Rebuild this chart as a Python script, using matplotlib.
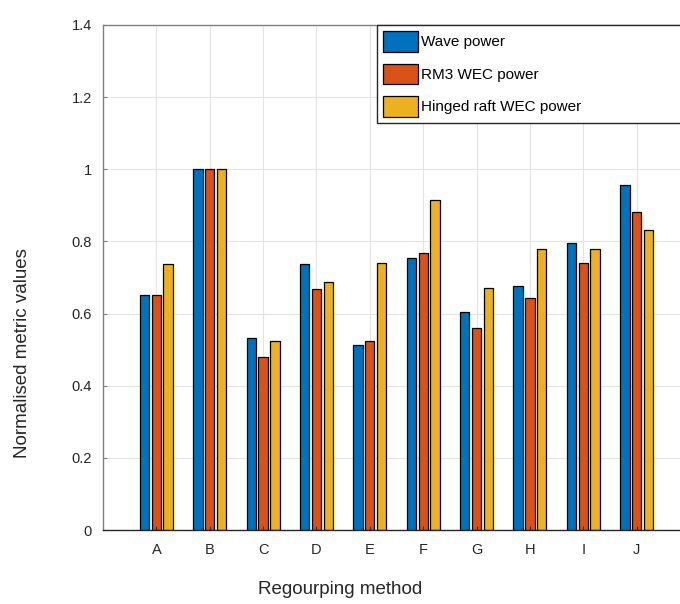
"""
Normalised metric values per regrouping method, grouped bars.
"""
import numpy as np
from matplotlib import pyplot as plt

# Data
methods = ["A", "B", "C", "D", "E", "F", "G", "H", "I", "J"]
wave_power = [0.651, 1.0, 0.533, 0.737, 0.512, 0.753, 0.603, 0.676, 0.796, 0.957]
rm3_power = [0.652, 1.0, 0.479, 0.668, 0.525, 0.768, 0.559, 0.642, 0.740, 0.881]
raft_power = [0.737, 1.0, 0.523, 0.688, 0.739, 0.915, 0.672, 0.779, 0.779, 0.833]
series_names = ["Wave power", "RM3 WEC power", "Hinged raft WEC power"]
y_ticks = [0, 0.2, 0.4, 0.6, 0.8, 1, 1.2, 1.4]

plt.rcParams['font.family'] = ['Liberation Sans', 'DejaVu Sans']

colors = ["#0072BD", "#D95319", "#EDB120"]
W, H = 680, 604
fig = plt.figure(figsize=(W / 100, H / 100), dpi=100)
# axes run past the right edge like in the cropped original
ax = fig.add_axes([103 / W, 1 - 530 / H, (690 - 103) / W, 505 / H])

x = np.arange(1, len(methods) + 1)
offsets = [-0.22, 0, 0.22]
for vals, off, col, name in zip([wave_power, rm3_power, raft_power], offsets,
                                colors, series_names):
	ax.bar(x + off, vals, width=0.175, color=col, edgecolor="black",
	       linewidth=0.9, label=name, zorder=1)

ax.set_xlim(0, 11)
ax.set_ylim(0, 1.4)
ax.set_xticks(x)
ax.set_xticklabels(methods)
ax.set_yticks(y_ticks)
ax.set_yticklabels(["0", "0.2", "0.4", "0.6", "0.8", "1", "1.2", "1.4"])

# grid behind the bars, ticks stay on top
for yv in y_ticks:
	ax.axhline(yv, color="#e3e3e3", lw=0.8, zorder=0)
for xv in x:
	ax.axvline(xv, color="#e3e3e3", lw=0.8, zorder=0)

ax.tick_params(axis="both", direction="in", length=3, width=0.8,
               labelsize=10.5, labelcolor="#262626")
ax.tick_params(axis="x", pad=9, color="#262626")
ax.tick_params(axis="y", pad=8, color="#808080")

ax.spines["right"].set_visible(False)
ax.spines["left"].set_color("#808080")
ax.spines["top"].set_color("#808080")
ax.spines["bottom"].set_color("#262626")
for s in ax.spines.values():
	s.set_linewidth(1.0)

ax.set_xlabel("Regourping method", fontsize=13.5, color="#262626")
ax.set_ylabel("Normalised metric values", fontsize=13.5, color="#262626")
ax.xaxis.set_label_coords(340 / W, 1 - 581 / H, transform=fig.transFigure)
ax.yaxis.set_label_coords(31 / W, 1 - 353 / H, transform=fig.transFigure)

leg = ax.legend(loc="upper left", mode="expand",
                bbox_to_anchor=(377 / W, 1 - 126 / H, (700 - 377) / W, 101 / H),
                bbox_transform=fig.transFigure, borderaxespad=0, fontsize=11,
                handlelength=2.3, handleheight=1.7, labelspacing=0.78,
                handletextpad=0.2, borderpad=0.4, fancybox=False,
                framealpha=1, edgecolor="#262626")
leg.get_frame().set_linewidth(1.0)

fig.savefig("out.png", dpi=100)
